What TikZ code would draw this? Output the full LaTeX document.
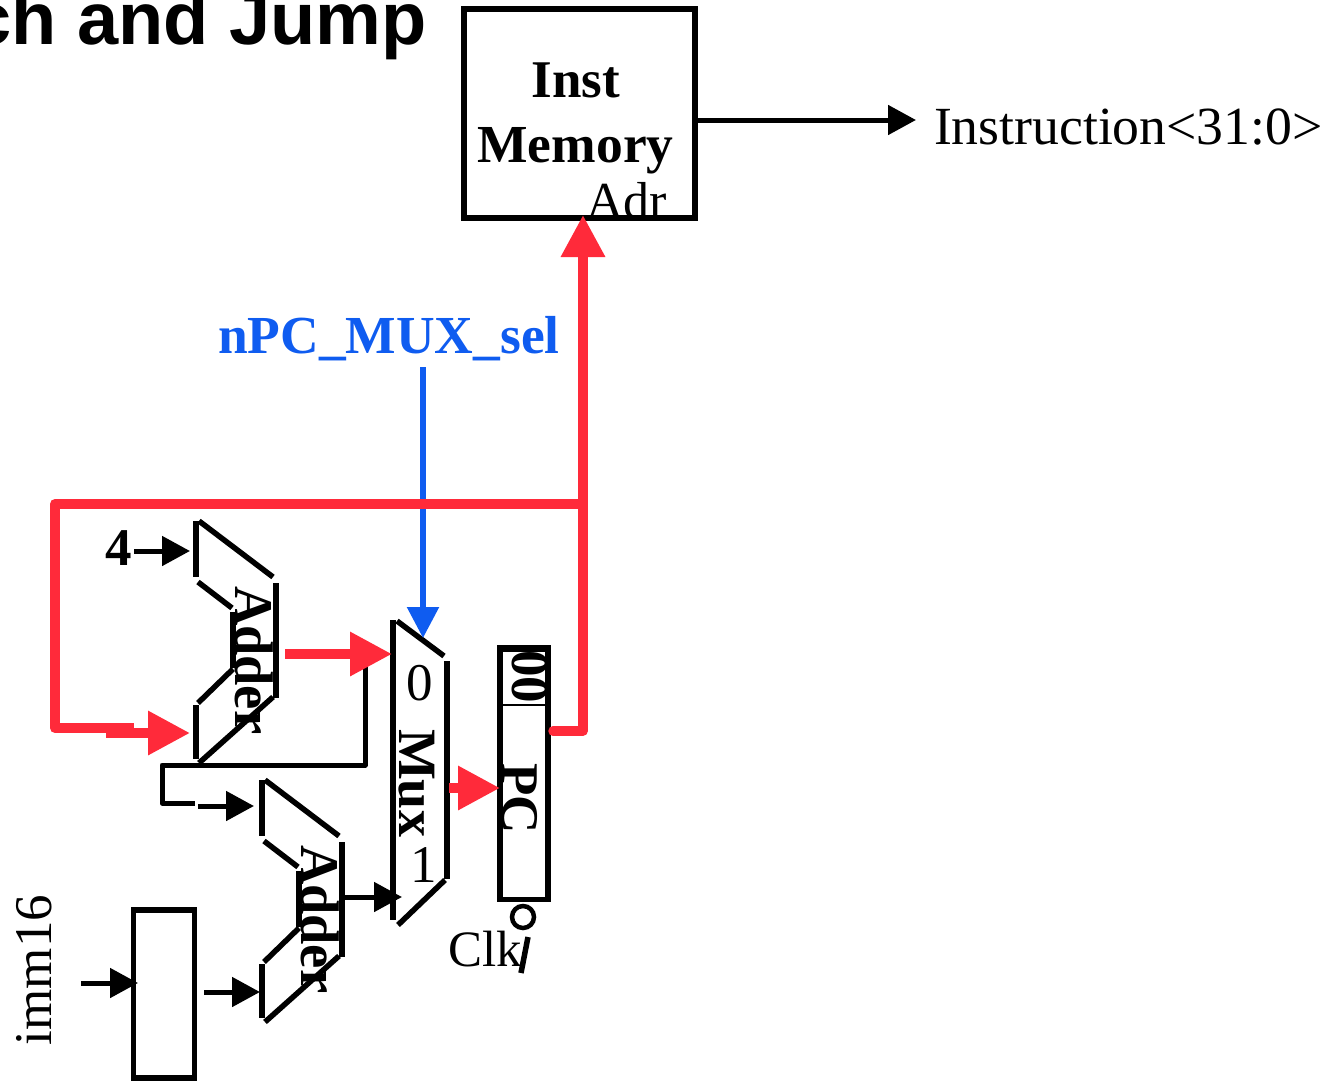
\documentclass[tikz,border=0pt]{standalone}
\usepackage{fontspec}
\setmainfont{Liberation Serif}
\newfontfamily\titlefont{Liberation Sans}
\usetikzlibrary{arrows.meta}
\definecolor{sigred}{HTML}{FF2A3A}
\definecolor{sigblue}{HTML}{0F5CF0}
\newcommand{\fs}[1]{\fontsize{#1}{#1}\selectfont}
\tikzset{
  x=1pt,y=-1pt,
  every node/.style={inner sep=0pt,outer sep=0pt},
  wire/.style={line width=5pt,black},
  wirea/.style={wire,-{Triangle[length=28pt,width=29pt]}},
  redw/.style={line width=9.5pt,sigred},
  reda/.style={redw,-{Triangle[length=42pt,width=42pt]}},
  bluea/.style={line width=5.5pt,sigblue,-{Triangle[length=31pt,width=31pt]}},
  outline/.style={line width=5.5pt,black},
  boxn/.style={draw=black,line width=5.5pt,fill=none,rectangle},
  lbl/.style={text=black,font=\fs{53}},
  vlbl/.style={text=black,anchor=base west,rotate=-90,font=\bfseries\fs{53}},
  pics/addershape/.style={code={
    \draw[outline] (0,0) -- (0,56);
    \draw[outline] (3,0) -- (77,56);
    \draw[outline] (2,61) -- (36,87);
    \draw[outline] (37,91) -- (37,147);
    \draw[outline] (37,148) -- (2,182);
    \draw[outline] (0,184) -- (0,238);
    \draw[outline] (3,242) -- (77,176);
    \draw[outline] (80,62) -- (80,177);
  }},
}
\begin{document}
\begin{tikzpicture}
\useasboundingbox (0,0) rectangle (1326,1081);
\clip (0,0) rectangle (1326,1081);

% title
\node[anchor=base east,font=\titlefont\bfseries\fs{74}] (title) at (427,45) {ch and Jump};

% boxes
\node[boxn,minimum width=231pt,minimum height=209pt] (imem) at (579.5,113.5) {};
\node[boxn,minimum width=48pt,minimum height=252pt] (pc) at (524,773.5) {};
\node[boxn,minimum width=61pt,minimum height=168pt] (ext) at (164,994) {};
\node[draw=black,line width=2pt,minimum width=45pt,minimum height=54pt] (pclow) at (524,678) {};
\node[draw=black,line width=4.5pt,circle,minimum size=22pt] (clkb) at (523,917) {};

% adders
\pic at (196,521) {addershape};
\pic at (262,780) {addershape};

% mux
\draw[outline] (393,620) -- (393,920);
\draw[outline] (397,621) -- (444,656);
\draw[outline] (447,661) -- (447,879);
\draw[outline] (445,880) -- (398,925);

% clock stroke
\coordinate (clka) at (528,937);
\coordinate (clkc) at (521,973);
\draw[outline] (clka) -- (clkc);

% connection points
\coordinate (brstart) at (583,504);
\coordinate (frameL) at (55,504);
\coordinate (frameB) at (55,728);
\coordinate (frameE) at (134,728);
\coordinate (frameS) at (106,733);
\coordinate (add1a) at (190,733);
\coordinate (pcout) at (553,731);
\coordinate (pccorner) at (583,731);
\coordinate (imemin) at (583,215);
\coordinate (add1o) at (285,654);
\coordinate (muxin0) at (392,654);
\coordinate (muxo) at (449,788);
\coordinate (pcin) at (500,788);
\coordinate (selS) at (423,367);
\coordinate (selE) at (423,638);
\coordinate (imemo) at (697,120);
\coordinate (instr) at (916,120);
\coordinate (fourS) at (134,551);
\coordinate (add1b) at (190,551);
\coordinate (fbA) at (365,660);
\coordinate (fbB) at (365,765);
\coordinate (fbC) at (162,765);
\coordinate (fbD) at (162,803);
\coordinate (fbE) at (195,803);
\coordinate (add2aS) at (198,806);
\coordinate (add2a) at (254,806);
\coordinate (add2o) at (343,897);
\coordinate (muxin1) at (402,897);
\coordinate (immS) at (81,983);
\coordinate (immE) at (138,983);
\coordinate (extS) at (204,992);
\coordinate (add2b) at (260,992);

% black connectors
\draw[wire,line join=round] (fbA) -- (fbB) -- (fbC) -- (fbD) -- (fbE);
\draw[wirea] (add2aS) -- (add2a);
\draw[wirea] (add2o) -- (muxin1);
\draw[wirea] (immS) -- (immE);
\draw[wirea] (extS) -- (add2b);
\draw[wirea] (fourS) -- (add1b);
\draw[wirea] (imemo) -- (instr);

% blue connector
\draw[bluea] (selS) -- (selE);

% red connectors
\draw[redw,line join=round,line width=10pt] (brstart) -- (frameL) -- (frameB) -- (frameE);
\draw[reda] (frameS) -- (add1a);
\draw[reda,line cap=round,line join=round] (pcout) -- (pccorner) -- (imemin);
\draw[reda] (add1o) -- (muxin0);
\draw[reda] (muxo) -- (pcin);

% labels
\node[lbl,font=\bfseries\fs{53},anchor=base] (inst) at (576,98) {Inst};
\node[lbl,font=\bfseries\fs{53.5},anchor=base] (memory) at (575.5,162) {Memory};
\node[lbl,font=\fs{52},anchor=base west] (adr) at (586,218) {Adr};
\node[lbl,font=\fs{53.7},anchor=base west] (instrl) at (934,144) {Instruction<31:0>};
\node[lbl,font=\bfseries\fs{53.5},text=sigblue,anchor=base west] (sel) at (218,353) {nPC\_MUX\_sel};
\node[lbl,font=\bfseries\fs{53},anchor=base west] (four) at (105,565) {4};
\node[vlbl,font=\bfseries\fs{54.5}] (adder1) at (235,586) {Adder};
\node[vlbl,font=\bfseries\fs{54.5}] (adder2) at (301,845) {Adder};
\node[vlbl,font=\bfseries\fs{54}] (mux) at (399.5,729) {Mux};
\node[lbl,font=\fs{53},anchor=base west] (zero) at (406,700) {0};
\node[lbl,font=\fs{53},anchor=base west] (one) at (410,882) {1};
\node[vlbl] (zz) at (512,650) {00};
\node[vlbl] (pcl) at (502,763) {PC};
\node[lbl,font=\fs{51},anchor=base west] (clk) at (448,966) {Clk};
\node[text=black,anchor=base east,rotate=90,font=\fs{53}] (imm) at (51,895) {imm16};
\end{tikzpicture}
\end{document}
